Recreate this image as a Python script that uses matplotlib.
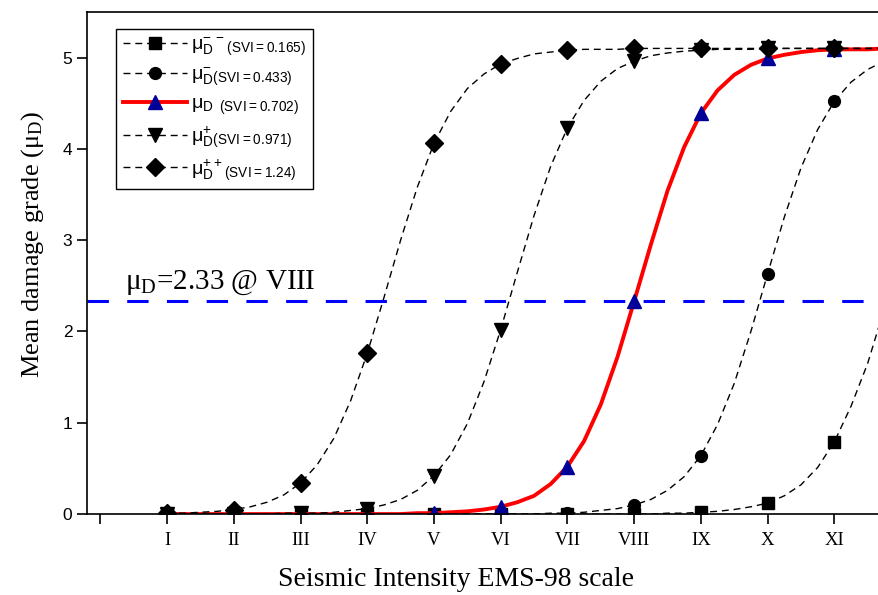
import numpy as np
import matplotlib
matplotlib.use('Agg')
import matplotlib.pyplot as plt

# EMS-98 intensity, read every quarter degree (markers sit on whole degrees)
intensity = np.arange(1, 11.76, 0.25)
roman = ['', 'I', 'II', 'III', 'IV', 'V', 'VI', 'VII', 'VIII', 'IX', 'X', 'XI']

# mean damage grade
mu_svi_0165 = [0.0] * 30 + [0.01, 0.01, 0.02, 0.03, 0.05, 0.08, 0.12, 0.20, 0.32, 0.51,
                            0.79, 1.18, 1.65, 2.25]
mu_svi_0433 = [0.0] * 22 + [0.00, 0.01, 0.01, 0.02, 0.04, 0.06, 0.10, 0.16, 0.26, 0.41,
                            0.64, 0.98, 1.43, 2.00, 2.63, 3.25, 3.79, 4.21, 4.52, 4.73,
                            4.87, 4.96]
mu_svi_0702 = [0.0] * 14 + [0.00, 0.01, 0.01, 0.02, 0.03, 0.05, 0.08, 0.13, 0.20, 0.33,
                            0.52, 0.80, 1.20, 1.72, 2.33, 2.95, 3.54, 4.02, 4.39, 4.64,
                            4.81, 4.92, 4.99, 5.03, 5.06, 5.08, 5.09, 5.09, 5.09, 5.10]
mu_svi_0971 = [0.0] * 6 + [0.00, 0.01, 0.01, 0.01, 0.02, 0.04, 0.06, 0.10, 0.16, 0.26,
                           0.42, 0.65, 0.99, 1.45, 2.02, 2.65, 3.27, 3.81, 4.23, 4.53,
                           4.74, 4.88, 4.96, 5.02, 5.05, 5.07, 5.08, 5.09, 5.09, 5.09] + [5.10] * 8
mu_svi_124 = [0.01, 0.01, 0.02, 0.03, 0.05, 0.08, 0.13, 0.21, 0.34, 0.54,
              0.83, 1.24, 1.76, 2.37, 3.00, 3.58, 4.06, 4.41, 4.66, 4.82,
              4.93, 4.99, 5.04, 5.06, 5.08, 5.09, 5.09, 5.09] + [5.10] * 16
threshold = 2.33

plt.rcParams['font.family'] = 'Liberation Sans'
serif = 'Liberation Serif'

fig = plt.figure(figsize=(8.79, 5.95), dpi=100)
ax = fig.add_axes([0.099, 0.136, 0.901, 0.844])

dash = (5, 3.5)
ax.plot(intensity, mu_svi_0165, color='black', lw=1.0, dashes=dash, marker='s', ms=8,
        markevery=4, label=r'$\mathregular{μ_D^{-\,-}{}_{(SVI=0.165)}}$')
ax.plot(intensity, mu_svi_0433, color='black', lw=1.0, dashes=dash, marker='o', ms=8.5,
        markevery=4, label=r'$\mathregular{μ_D^{-}{}_{(SVI=0.433)}}$')
ax.plot(intensity, mu_svi_0702, color='red', lw=2.8, marker='^', ms=10, mfc='#000099',
        mec='#000099', markevery=4, label=r'$\mathregular{μ_D\ {}_{(SVI=0.702)}}$')
ax.plot(intensity, mu_svi_0971, color='black', lw=1.0, dashes=dash, marker='v', ms=10,
        markevery=4, label=r'$\mathregular{μ_D^{+}{}_{(SVI=0.971)}}$')
ax.plot(intensity, mu_svi_124, color='black', lw=1.0, dashes=dash, marker='D', ms=9,
        markevery=4, label=r'$\mathregular{μ_D^{++}{}_{(SVI=1.24)}}$')

ax.axhline(threshold, color='#0000ff', lw=2.2, dashes=(7, 6))
ax.text(0.37, 2.47, r'$\mathregular{μ_D}$=2.33 @ VIII', family=serif, fontsize=21)

ax.set_xlim(-0.2, 11.67)
ax.set_ylim(0, 5.5)
ax.set_xticks(range(12))
ax.set_xticklabels(roman, family=serif, fontsize=13.5)
ax.set_yticks(range(6))
ax.tick_params(axis='y', labelsize=12.5)
ax.tick_params(axis='x', pad=6)
ax.tick_params(direction='out', length=7, width=1.2)
ax.spines['right'].set_visible(False)
for s in ['left', 'bottom', 'top']:
    ax.spines[s].set_linewidth(1.2)

ax.set_xlabel('Seismic Intensity EMS-98 scale', family=serif, fontsize=20)
ax.xaxis.set_label_coords(0.466, -0.105)
ax.set_ylabel(r'Mean damage grade ($\mathregular{μ_D}$)', family=serif, fontsize=19)
ax.yaxis.set_label_coords(-0.052, 0.536)

leg = ax.legend(loc='upper left', bbox_to_anchor=(0.037, 0.966), fontsize=14,
                fancybox=False, edgecolor='black', framealpha=1, handlelength=3.3,
                handletextpad=0.2, labelspacing=0.38, borderpad=0.35, borderaxespad=0)
leg.get_frame().set_linewidth(1.0)

fig.savefig('out.png', dpi=100)
